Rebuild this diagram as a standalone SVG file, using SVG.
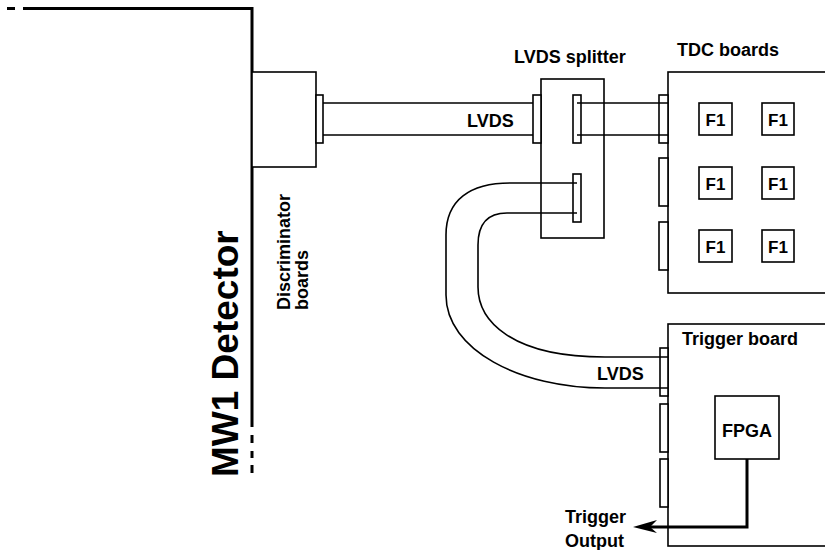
<svg xmlns="http://www.w3.org/2000/svg" width="825" height="550" viewBox="0 0 825 550">
<style>
.box{fill:#fff;stroke:#000;stroke-width:1.6}
.conn{fill:#fff;stroke:#000;stroke-width:1.6}
.wire{fill:none;stroke:#000;stroke-width:1.6}
.thick{fill:none;stroke:#000;stroke-width:3}
text{font-family:"Liberation Sans",Arial,sans-serif;font-weight:bold;fill:#000;font-size:18px}
.f1{font-size:17px;text-anchor:middle}
</style>
<rect width="825" height="550" fill="#fff"/>
<g id="detector">
<path class="thick" d="M7,8.5 H15 M23,8.5 H252 V427 M252,435 V443 M252,451 V458 M252,465 V473"/>
<text transform="translate(238,477) rotate(-90)" style="font-size:37px">MW1 Detector</text>
</g>
<g id="discriminator">
<rect class="box" x="252" y="72" width="64" height="95"/>
<rect class="conn" x="316" y="95" width="7" height="48"/>
<text transform="translate(290,310) rotate(-90)">Discriminator</text>
<text transform="translate(308,310) rotate(-90)">boards</text>
</g>
<g id="splitter">
<rect class="box" x="541" y="79" width="63" height="159"/>
<rect class="conn" x="533" y="95" width="8" height="48"/>
<rect class="conn" x="573" y="95" width="8" height="48"/>
<rect class="conn" x="573" y="174" width="8" height="48"/>
<text x="514" y="63">LVDS splitter</text>
</g>
<g id="tdc">
<rect class="box" x="668" y="72" width="170" height="221"/>
<rect class="conn" x="659" y="95" width="9" height="48"/>
<rect class="conn" x="659" y="158" width="9" height="48"/>
<rect class="conn" x="659" y="222" width="9" height="48"/>
<text x="677" y="56">TDC boards</text>
<rect class="box" x="699" y="103" width="33" height="32"/>
<rect class="box" x="762" y="103" width="32" height="32"/>
<rect class="box" x="699" y="167" width="33" height="32"/>
<rect class="box" x="762" y="167" width="32" height="32"/>
<rect class="box" x="699" y="230" width="33" height="32"/>
<rect class="box" x="762" y="230" width="32" height="32"/>
<text class="f1" x="715.5" y="126">F1</text>
<text class="f1" x="778" y="126">F1</text>
<text class="f1" x="715.5" y="190">F1</text>
<text class="f1" x="778" y="190">F1</text>
<text class="f1" x="715.5" y="253">F1</text>
<text class="f1" x="778" y="253">F1</text>
</g>
<g id="trigger">
<rect class="box" x="668" y="324" width="170" height="222"/>
<rect class="conn" x="660" y="348" width="8" height="48"/>
<rect class="conn" x="660" y="404" width="8" height="48"/>
<rect class="conn" x="660" y="459" width="8" height="48"/>
<text x="682" y="345">Trigger board</text>
</g>
<g id="fpga">
<rect class="box" x="715" y="396" width="64" height="63"/>
<text x="747" y="437" text-anchor="middle">FPGA</text>
</g>
<g id="labels">
<text x="467" y="127">LVDS</text>
<text x="597" y="380">LVDS</text>
<text x="565" y="523">Trigger</text>
<text x="565" y="547">Output</text>
</g>
<g id="connectors">
<path class="wire" d="M323,103 H533 M323,135 H533"/>
<path class="wire" d="M577,103 H668 M577,135 H668"/>
<path class="wire" d="M577,183 H510 C470,183 446,200 446,235 V295 C446,350 520,388 605,388 H668"/>
<path class="wire" d="M577,213 H507 C487,213 478,225 478,245 V287 C478,320 510,357 605,357 H668"/>
<path class="thick" d="M747,459 V527 H650"/>
<polygon points="633,527 657,520 650,527 657,533" fill="#000"/>
</g>
</svg>
